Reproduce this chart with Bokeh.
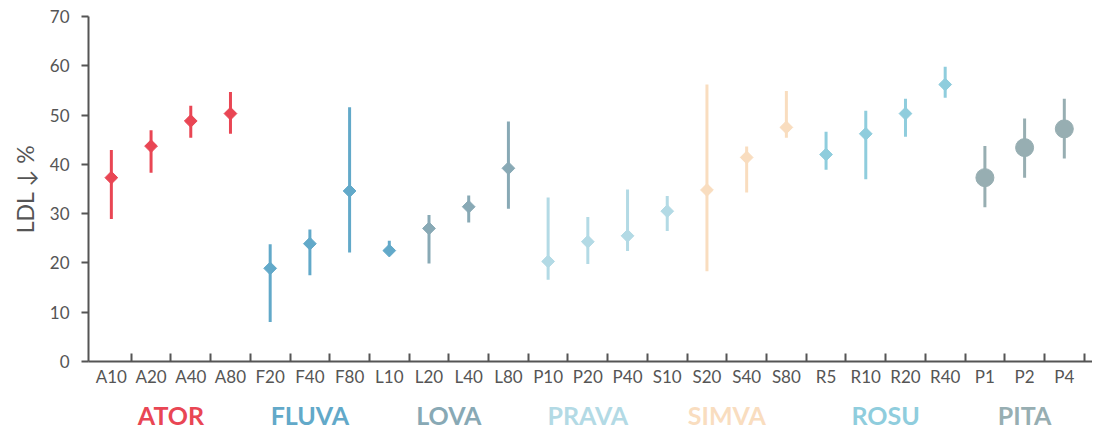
import numpy as np
from bokeh.plotting import figure
from bokeh.models import Range1d, FixedTicker, SingleIntervalTicker, ColumnDataSource
from bokeh.layouts import column
from bokeh.core.properties import value
from bokeh.embed import file_html
from bokeh.resources import INLINE

# ---- data ----
labels = ["A10", "A20", "A40", "A80", "F20", "F40", "F80", "L10", "L20", "L40", "L80",
          "P10", "P20", "P40", "S10", "S20", "S40", "S80", "R5", "R10", "R20", "R40",
          "P1", "P2", "P4"]
means = [37.3, 43.7, 48.8, 50.3, 18.9, 23.9, 34.6, 22.5, 27.0, 31.4, 39.2,
         20.3, 24.3, 25.5, 30.5, 34.8, 41.4, 47.5, 42.0, 46.2, 50.3, 56.2,
         37.3, 43.4, 47.2]
lows = [28.9, 38.3, 45.4, 46.2, 8.0, 17.5, 22.1, 21.8, 19.9, 28.2, 31.0,
        16.6, 19.8, 22.4, 26.5, 18.3, 34.3, 45.4, 38.9, 37.0, 45.6, 53.5,
        31.3, 37.3, 41.2]
highs = [42.9, 46.9, 51.9, 54.7, 23.8, 26.8, 51.6, 24.5, 29.7, 33.7, 48.7,
         33.3, 29.3, 34.9, 33.6, 56.2, 43.6, 54.9, 46.6, 50.9, 53.3, 59.8,
         43.7, 49.3, 53.3]
groups = ["ATOR", "FLUVA", "LOVA", "PRAVA", "SIMVA", "ROSU", "PITA"]
# group each category belongs to (for the group labels)
label_group = [0] * 4 + [1] * 3 + [2] * 4 + [3] * 3 + [4] * 4 + [5] * 4 + [6] * 3
# group colour used by each point (as drawn in the original)
point_group = [0] * 4 + [1] * 4 + [2] * 3 + [3] * 4 + [4] * 3 + [5] * 4 + [6] * 3
group_colors = ["#E94654", "#62A9C9", "#88A9B5", "#B3DAE5", "#F9DDBF", "#8FCDDD", "#97AEB2"]
circle_groups = ["PITA"]

# ---- derived ----
n = len(labels)
xc = np.arange(n) + 0.5
colors = [group_colors[g] for g in point_group]
is_circle = [groups[g] in circle_groups for g in point_group]

src_all = ColumnDataSource(dict(x=xc, m=means, lo=lows, hi=highs, c=colors))
dia_idx = [i for i in range(n) if not is_circle[i]]
cir_idx = [i for i in range(n) if is_circle[i]]
src_dia = ColumnDataSource(dict(x=xc[dia_idx], m=[means[i] for i in dia_idx], c=[colors[i] for i in dia_idx]))
src_cir = ColumnDataSource(dict(x=xc[cir_idx], m=[means[i] for i in cir_idx], c=[colors[i] for i in cir_idx]))

AX = "#555555"
FONT = "Lato"
W = 1092

x_range = Range1d(-0.0756, n + 0.21)

p = figure(width=W, height=393, x_range=x_range, y_range=Range1d(0, 70),
           output_backend="svg", toolbar_location=None,
           min_border_left=88, min_border_right=0, min_border_top=16, min_border_bottom=32)
p.grid.visible = False
p.outline_line_color = None

p.segment(x0="x", y0="lo", x1="x", y1="hi", source=src_all, line_color="c", line_width=3)
p.scatter(x="x", y="m", source=src_dia, marker="square", angle=np.pi / 4, size=9,
          fill_color="c", line_color="c")
p.scatter(x="x", y="m", source=src_cir, marker="circle", size=18,
          fill_color="c", line_color="c")

xa = p.xaxis[0]
xa.ticker = FixedTicker(ticks=list(xc), minor_ticks=list(range(1, n + 1)))
xa.major_label_overrides = {float(v): l for v, l in zip(xc, labels)}
xa.major_tick_line_color = None
xa.major_tick_in = 0
xa.major_tick_out = 0
xa.minor_tick_in = 8
xa.minor_tick_out = 0
xa.minor_tick_line_color = AX
xa.minor_tick_line_width = 2
xa.axis_line_color = AX
xa.axis_line_width = 2
xa.major_label_standoff = 4
xa.major_label_text_font = FONT
xa.major_label_text_font_size = "17px"
xa.major_label_text_color = AX

ya = p.yaxis[0]
ya.ticker = SingleIntervalTicker(interval=10, num_minor_ticks=0)
ya.major_tick_in = 0
ya.major_tick_out = 7
ya.minor_tick_line_color = None
ya.major_tick_line_color = AX
ya.major_tick_line_width = 2
ya.axis_line_color = AX
ya.axis_line_width = 2
ya.major_label_standoff = 12
ya.major_label_text_font = FONT
ya.major_label_text_font_size = "17px"
ya.major_label_text_color = AX
ya.axis_label = "LDL ↓ %"
ya.axis_label_text_font = FONT
ya.axis_label_text_font_style = "normal"
ya.axis_label_text_font_size = "23px"
ya.axis_label_text_color = AX
ya.axis_label_standoff = 8

# ---- group labels strip ----
gx = []
for g in range(len(groups)):
    members = [i for i in range(n) if label_group[i] == g]
    gx.append((min(members) + max(members) + 1) / 2.0)
src_g = ColumnDataSource(dict(x=gx, y=[0.40] * len(groups), t=groups, c=group_colors))

p2 = figure(width=W, height=35, x_range=x_range, y_range=Range1d(0, 1),
            x_axis_location=None, y_axis_location=None,
            output_backend="svg", toolbar_location=None,
            min_border_left=88, min_border_right=0, min_border_top=0, min_border_bottom=0)
p2.grid.visible = False
p2.outline_line_color = None
p2.text(x="x", y="y", text="t", source=src_g, text_color="c", text_align="center",
        text_baseline="alphabetic", text_font=value(FONT), text_font_style="bold",
        text_font_size="25px")

layout = column(p, p2, spacing=0)
open("out.html", "w").write(file_html(layout, INLINE))
